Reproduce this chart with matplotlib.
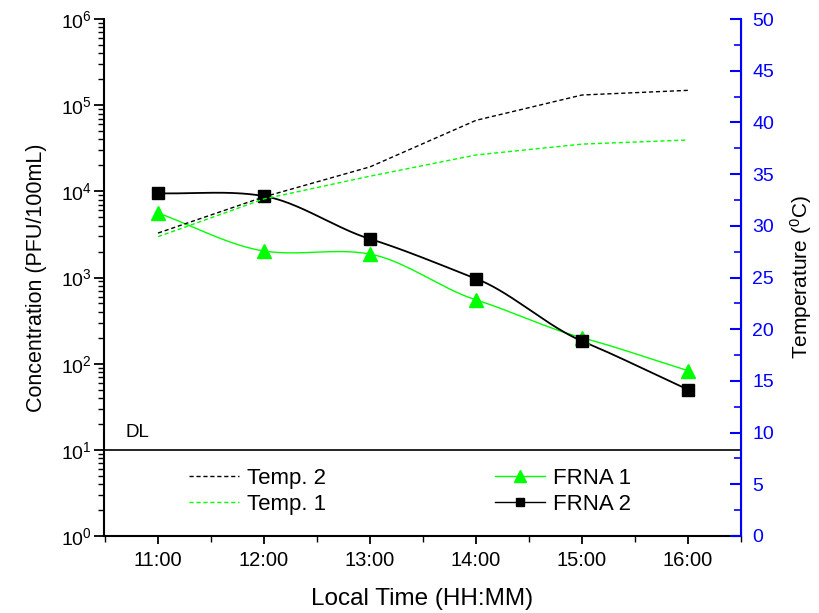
import numpy as np
import matplotlib
matplotlib.use("Agg")
import matplotlib.pyplot as plt
from matplotlib.ticker import FixedLocator, LogLocator, MultipleLocator, FuncFormatter, NullFormatter
from matplotlib.lines import Line2D

# ---- data ----
times = ["11:00", "12:00", "13:00", "14:00", "15:00", "16:00"]
frna1 = [5600, 2030, 1870, 550, 200, 83]      # PFU/100mL
frna2 = [9500, 8800, 2800, 970, 183, 50]      # PFU/100mL
temp1 = [28.95, 32.6, 34.8, 36.85, 37.9, 38.3]  # deg C
temp2 = [29.3, 32.8, 35.7, 40.2, 42.65, 43.1]   # deg C
detection_limit = 10

plt.rcParams['font.family'] = ['Liberation Sans', 'DejaVu Sans']
plt.rcParams['mathtext.fontset'] = 'custom'
plt.rcParams['mathtext.rm'] = 'Liberation Sans'
plt.rcParams['mathtext.it'] = 'Liberation Sans:italic'


def to_hours(t):
    h, m = t.split(":")
    return int(h) + int(m) / 60.0


def cardinal(x, y, xs, c=0.8):
    """Cardinal cubic used only to draw a smooth connecting line through the points."""
    x = np.asarray(x, float); y = np.asarray(y, float)
    n = len(x); h = np.diff(x); d = np.diff(y) / h
    m = np.zeros(n)
    for i in range(1, n - 1):
        m[i] = c * (y[i + 1] - y[i - 1]) / (x[i + 1] - x[i - 1])
    m[0] = d[0]; m[-1] = d[-1]
    out = np.empty_like(xs)
    for k, xv in enumerate(xs):
        i = min(max(np.searchsorted(x, xv) - 1, 0), n - 2)
        t = (xv - x[i]) / h[i]
        h00 = 2 * t ** 3 - 3 * t ** 2 + 1; h10 = t ** 3 - 2 * t ** 2 + t
        h01 = -2 * t ** 3 + 3 * t ** 2; h11 = t ** 3 - t ** 2
        out[k] = h00 * y[i] + h10 * h[i] * m[i] + h01 * y[i + 1] + h11 * h[i] * m[i + 1]
    return out


x = np.array([to_hours(t) for t in times])
xs = np.linspace(x[0], x[-1], 300)

fig = plt.figure(figsize=(8.19, 6.13), dpi=100)
ax1 = fig.add_axes([104 / 819, 1 - 536 / 613, (741 - 104) / 819, (536 - 19) / 613])
ax2 = ax1.twinx()

green = '#00FF00'

# FRNA curves (smooth connection in log space)
s1 = 10 ** cardinal(x, np.log10(frna1), xs)
s2 = 10 ** cardinal(x, np.log10(frna2), xs)
ax1.plot(xs, s1, color=green, lw=1.0, zorder=3)
ax1.plot(x, frna1, linestyle='none', marker='^', ms=10, color=green, zorder=4)
ax1.plot(xs, s2, color='black', lw=1.3, zorder=3)
ax1.plot(x, frna2, linestyle='none', marker='s', ms=8, color='black', zorder=5)

ax1.axhline(detection_limit, color='black', lw=1.2, zorder=2)
ax1.text(10.69, 14.0, "DL", fontsize=13.5, ha='left', va='baseline')

ax1.set_yscale('log')
ax1.set_ylim(1, 1e6)
ax1.set_xlim(10.49, 16.5)
ax1.yaxis.set_major_locator(LogLocator(base=10, numticks=10))
ax1.yaxis.set_minor_locator(LogLocator(base=10, subs=np.arange(2, 10), numticks=20))
ax1.yaxis.set_minor_formatter(NullFormatter())
ax1.xaxis.set_major_locator(FixedLocator(x))
ax1.xaxis.set_major_formatter(FuncFormatter(lambda v, p: "%d:%02d" % (int(round(v * 60)) // 60, int(round(v * 60)) % 60)))
ax1.xaxis.set_minor_locator(MultipleLocator(0.5))

ax1.tick_params(axis='y', which='major', direction='out', length=7, width=1.3, labelsize=14, pad=2)
ax1.tick_params(axis='y', which='minor', direction='out', length=4, width=1.0)
ax1.tick_params(axis='x', which='major', direction='out', length=6, width=1.3, labelsize=14.5, pad=5)
ax1.tick_params(axis='x', which='minor', direction='out', length=4, width=1.0)

ax1.spines['top'].set_visible(False)
ax1.spines['left'].set_linewidth(1.5)
ax1.spines['bottom'].set_linewidth(1.5)
ax1.set_xlabel("Local Time (HH:MM)", fontsize=17.5, labelpad=13)
ax1.set_ylabel("Concentration (PFU/100mL)", fontsize=15.5, labelpad=10)

# Temperature (right axis)
dash = (0, (3, 2))
ax2.plot(x, temp2, color='black', lw=1.0, linestyle=dash)
ax2.plot(x, temp1, color=green, lw=1.0, linestyle=dash)
ax2.set_ylim(0, 50)
ax2.yaxis.set_major_locator(MultipleLocator(5))
ax2.yaxis.set_minor_locator(MultipleLocator(2.5))
ax2.tick_params(axis='y', which='major', direction='in', length=8, width=1.5, colors='blue', labelsize=14, pad=8)
ax2.tick_params(axis='y', which='minor', direction='in', length=5, width=1.2, colors='blue')
ax2.spines['right'].set_color('blue')
ax2.spines['right'].set_linewidth(1.5)
ax2.spines['top'].set_visible(False)
ax2.spines['left'].set_visible(False)
ax2.spines['bottom'].set_visible(False)
ax2.set_ylabel(r"Temperature ($^{0}$C)", fontsize=15, color='black', labelpad=10)

handles = [
    Line2D([], [], color='black', lw=1.0, linestyle=dash),
    Line2D([], [], color=green, lw=1.0, linestyle=dash),
    Line2D([], [], color=green, lw=1.0, marker='^', ms=8),
    Line2D([], [], color='black', lw=1.0, marker='s', ms=6),
]
labels = ["Temp. 2", "Temp. 1", "FRNA 1", "FRNA 2"]
ax2.legend(handles, labels, ncol=2, frameon=False, fontsize=16,
           loc='upper left', bbox_to_anchor=(0.133, 0.132),
           handlelength=2.25, handletextpad=0.36, columnspacing=7.6,
           labelspacing=0.24, borderaxespad=0, borderpad=0)

fig.savefig("out.png", dpi=100)
